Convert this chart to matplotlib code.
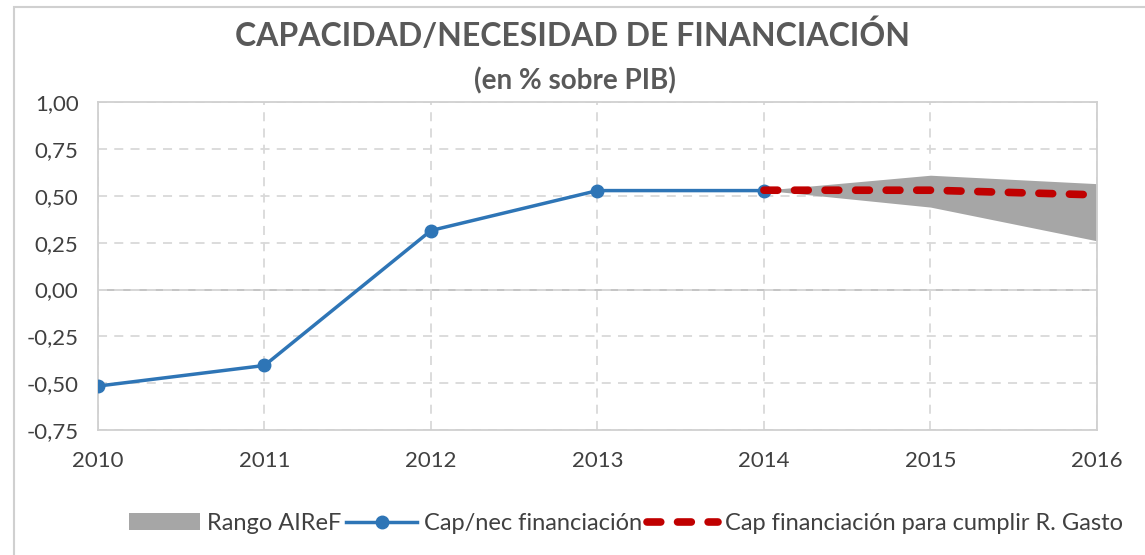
import matplotlib.pyplot as plt
from matplotlib.patches import Rectangle
from matplotlib.ticker import FuncFormatter

plt.rcParams['font.family'] = ['Lato', 'DejaVu Sans']

# datos
years = [2010, 2011, 2012, 2013, 2014, 2015, 2016]
cap_nec = [-0.515, -0.405, 0.315, 0.528, 0.528]
years_cap = years[:5]
years_proy = [2014, 2015, 2016]
regla_gasto = [0.53, 0.53, 0.505]
rango_sup = [0.53, 0.61, 0.565]
rango_inf = [0.53, 0.44, 0.26]
yticks = [-0.75, -0.5, -0.25, 0.0, 0.25, 0.5, 0.75, 1.0]

fig = plt.figure(figsize=(11.45, 5.55), dpi=100)
ax = fig.add_axes([0.0856, 0.225, 0.8724, 0.591])

# marco del grafico
fig.patches.append(Rectangle((14 / 1145, -0.1), 1.2, (555 - 7) / 555 + 0.1,
                             transform=fig.transFigure, fill=False,
                             edgecolor='#d0d0d0', linewidth=1.5))

ax.fill_between(years_proy, rango_inf, rango_sup, color='#a6a6a6',
                linewidth=0, label='Rango AIReF', zorder=2)
ax.plot(years_cap, cap_nec, color='#2e75b6', linewidth=2.5, marker='o',
        markersize=9, label='Cap/nec financiación', zorder=3)
ax.plot(years_proy, regla_gasto, color='#c00000', linewidth=5.5,
        linestyle=(0, (1.8, 2.2)), dash_capstyle='round',
        label='Cap financiación para cumplir R. Gasto', zorder=4)

ax.set_xlim(2010, 2016)
ax.set_ylim(-0.75, 1.0)
ax.set_xticks(years)
ax.set_yticks(yticks)
ax.yaxis.set_major_formatter(FuncFormatter(lambda v, p: f'{v:.2f}'.replace('.', ',')))
ax.tick_params(length=0, labelsize=16, labelcolor='#404040', pad=14)
ax.tick_params(axis='x', pad=15)

ax.grid(True, color='#d9d9d9', linestyle=(0, (5, 4)), linewidth=1.3)
ax.axhline(0, color='#bfbfbf', linewidth=1.3, zorder=1)
for s in ax.spines.values():
    s.set_color('#d0d0d0')
    s.set_linewidth(1.3)

fig.text(0.5, 0.937, 'CAPACIDAD/NECESIDAD DE FINANCIACIÓN', ha='center',
         va='center', fontsize=23, fontweight='bold', color='#595959')
fig.text(0.502, 0.855, '(en % sobre PIB)', ha='center', va='center',
         fontsize=20, fontweight='bold', color='#595959')

leg = fig.legend(loc='center', bbox_to_anchor=(0.547, 0.057), ncol=3,
                 frameon=False, fontsize=17, handlelength=3.0,
                 columnspacing=0.2, handletextpad=0.3)
for t in leg.get_texts():
    t.set_color('#404040')

fig.savefig('out.png', dpi=100)
